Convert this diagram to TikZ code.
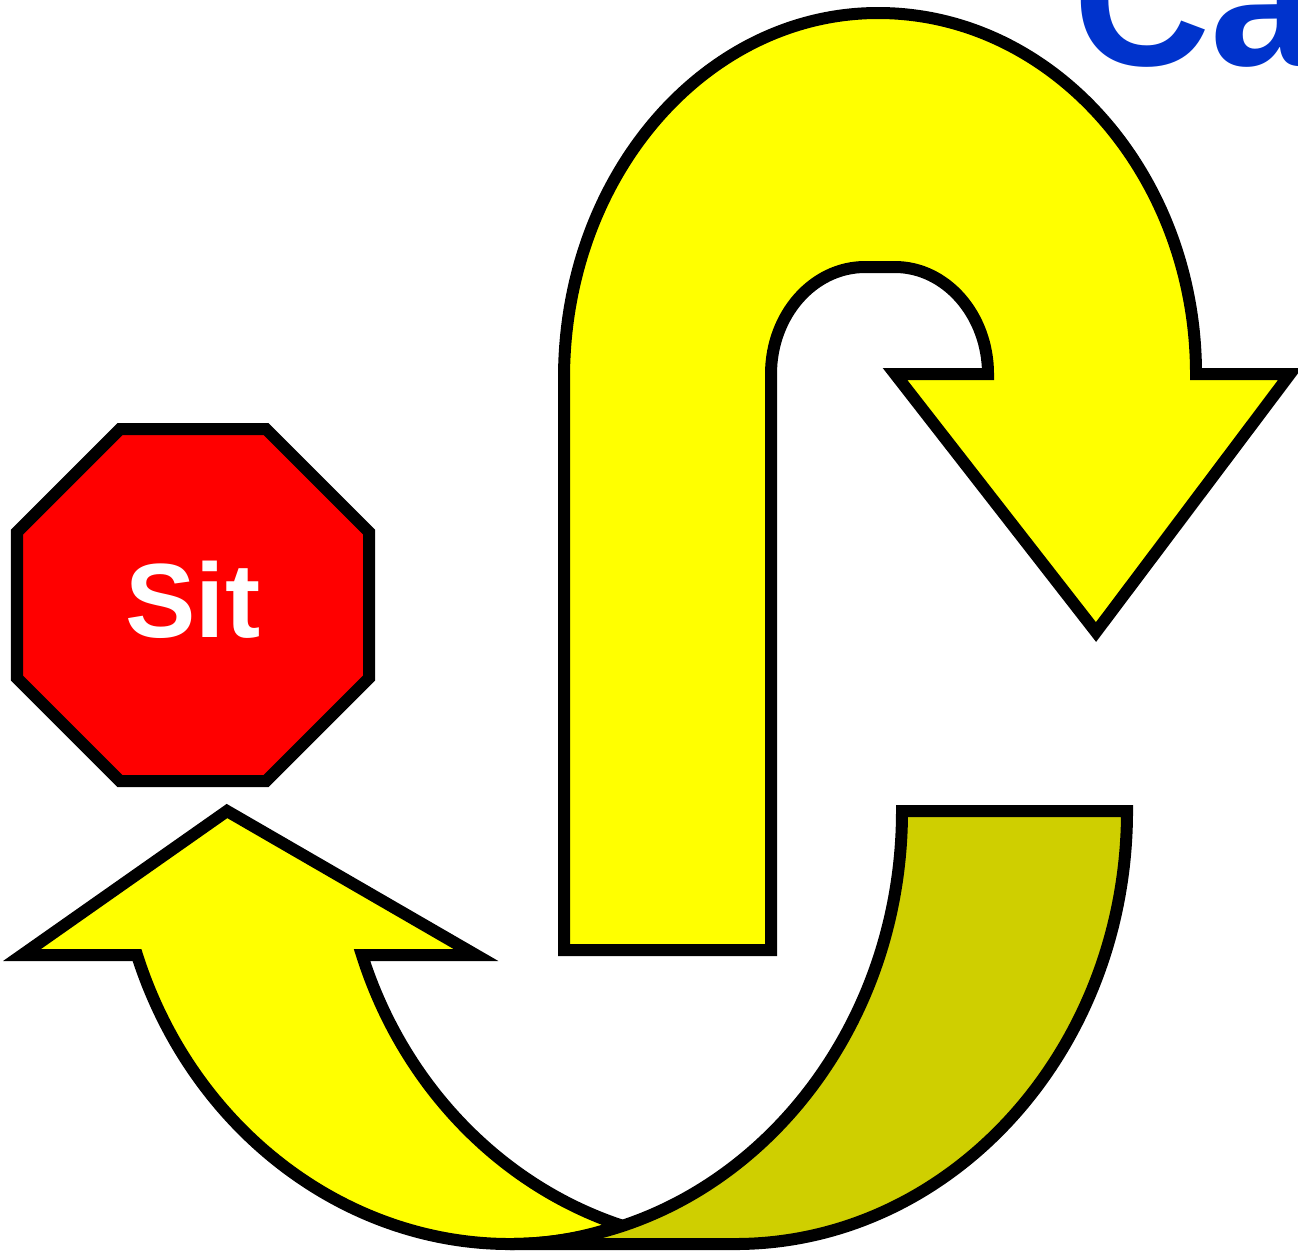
\documentclass[tikz,border=0pt]{standalone}
\usepackage{fontspec}
\setmainfont{Liberation Sans}
\definecolor{signred}{HTML}{FF0000}
\definecolor{arrowyellow}{HTML}{FFFF00}
\definecolor{arrowolive}{HTML}{CFCF00}
\definecolor{titleblue}{HTML}{0033CC}
\tikzset{
 outlined/.style={draw=black, line width=.12cm, miter limit=10},
 signtext/.style={text=white, font=\bfseries\fontsize{30}{30}\selectfont, inner sep=0},
 titletext/.style={text=titleblue, font=\bfseries\fontsize{54}{54}\selectfont, inner sep=0, anchor=base west}
}
\begin{document}
\begin{tikzpicture}[x=.01cm, y=-.01cm]
\useasboundingbox (0,0) rectangle (1298,1251);
\clip (0,0) rectangle (1298,1251);
\node[titletext] (title) at (1073,65) {Ca};
\draw[outlined, fill=signred] (120,429)--(266,429)--(369,532)--(369,678)--(266,781)--(120,781)--(17,678)--(17,532)--cycle;
\node[signtext] (sit) at (193,600) {Sit};
\draw[outlined, fill=arrowyellow] (564,950)--(564,378) .. controls (564,176) and (705,13) .. (878,13)
 .. controls (1054,13) and (1196,176) .. (1196,374)--(1290,374)--(1096,632)--(895,374)--(988,374)
 .. controls (988,315) and (946,267) .. (895,267)--(865,267) .. controls (813,267) and (771,315) .. (771,374)
 --(771,950)--cycle;
\draw[outlined, fill=arrowyellow] (510,1244) .. controls (343.7,1244) and (192,1128.2) .. (137,955)
 --(22,955)--(227,811)--(476,955)--(362,955) .. controls (403,1084.7) and (500,1184.9) .. (620.4,1225.1)
 .. controls (584,1238) and (547,1244) .. cycle;
\draw[outlined, fill=arrowolive] (510,1244)--(735,1244) .. controls (951,1244) and (1127,1050) .. (1127,811)
 --(902,811) .. controls (902,1050) and (726,1244) .. cycle;
\end{tikzpicture}
\end{document}
